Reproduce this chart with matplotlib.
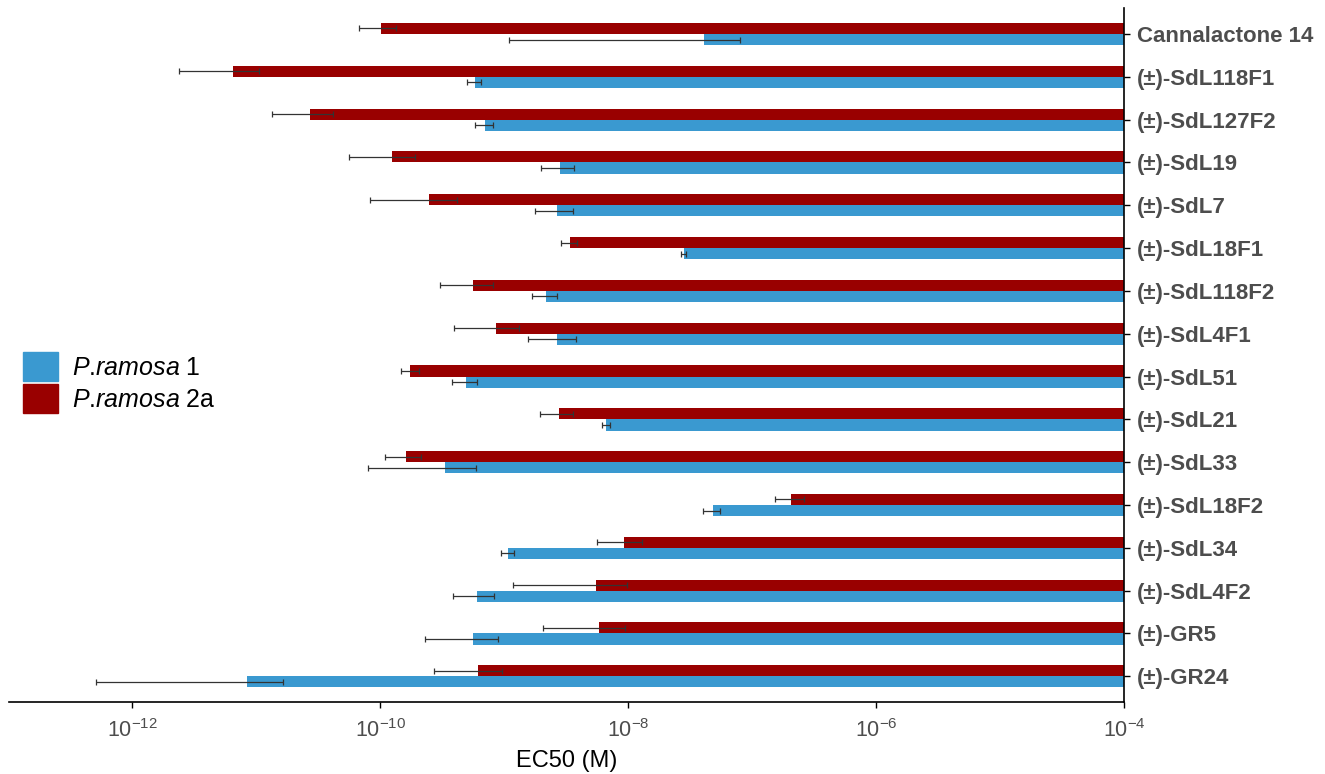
"""EC50 of strigolactone analogues on two P. ramosa populations (log scale bars)."""

import matplotlib
matplotlib.use("Agg")
import matplotlib.pyplot as plt
from matplotlib.patches import Patch

plt.rcParams["font.family"] = ["Liberation Sans", "DejaVu Sans"]
plt.rcParams["mathtext.fontset"] = "custom"
plt.rcParams["mathtext.rm"] = "Liberation Sans"
plt.rcParams["mathtext.it"] = "Liberation Sans:italic"
plt.rcParams["mathtext.bf"] = "Liberation Sans:bold"

compounds = ["Cannalactone 14", "(±)-SdL118F1", "(±)-SdL127F2", "(±)-SdL19", "(±)-SdL7",
             "(±)-SdL18F1", "(±)-SdL118F2", "(±)-SdL4F1", "(±)-SdL51", "(±)-SdL21",
             "(±)-SdL33", "(±)-SdL18F2", "(±)-SdL34", "(±)-SdL4F2", "(±)-GR5", "(±)-GR24"]

# P. ramosa 1 (blue): mean EC50 and SD, in M
pr1_mean = [4.06e-8, 5.78e-10, 7.01e-10, 2.83e-9, 2.69e-9,
            2.80e-8, 2.17e-9, 2.69e-9, 4.91e-10, 6.64e-9,
            3.34e-10, 4.79e-8, 1.07e-9, 6.05e-10, 5.64e-10, 8.41e-12]
pr1_sd = [3.95e-8, 0.75e-10, 1.15e-10, 0.85e-9, 0.93e-9,
          0.15e-8, 0.5e-9, 1.13e-9, 1.12e-10, 0.52e-9,
          2.54e-10, 0.75e-8, 0.13e-9, 2.2e-10, 3.35e-10, 7.9e-12]

# P. ramosa 2a (dark red)
pr2a_mean = [1.01e-10, 6.50e-12, 2.73e-11, 1.233e-10, 2.48e-10,
             3.37e-9, 5.56e-10, 8.61e-10, 1.75e-10, 2.79e-9,
             1.62e-10, 2.07e-7, 9.29e-9, 5.47e-9, 5.77e-9, 6.15e-10]
pr2a_sd = [0.33e-10, 4.1e-12, 1.4e-11, 0.67e-10, 1.65e-10,
           0.5e-9, 2.5e-10, 4.65e-10, 0.29e-10, 0.83e-9,
           0.53e-10, 0.55e-7, 3.65e-9, 4.3e-9, 3.7e-9, 3.44e-10]

x_max = 1e-4
blue = "#3a99d0"
red = "#990000"

fig = plt.figure(figsize=(13.25, 7.74), dpi=100)
ax = fig.add_axes([9 / 1325, 72 / 774, (1124 - 9) / 1325, (765.7 - 72) / 774])

h = 0.26
ypos = list(range(len(compounds)))
y_red = [y - h / 2 for y in ypos]
y_blue = [y + h / 2 for y in ypos]

ax.barh(y_red, [x_max - m for m in pr2a_mean], left=pr2a_mean, height=h, color=red)
ax.barh(y_blue, [x_max - m for m in pr1_mean], left=pr1_mean, height=h, color=blue)
err_kw = dict(fmt="none", ecolor="#333333", elinewidth=0.9, capsize=2.5, capthick=0.9, zorder=3)
ax.errorbar(pr2a_mean, y_red, xerr=pr2a_sd, **err_kw)
ax.errorbar(pr1_mean, y_blue, xerr=pr1_sd, **err_kw)

ax.set_xscale("log")
ax.set_xlim(10 ** -12.995, x_max)
ax.set_ylim(len(compounds) - 0.4, -0.6)
ax.set_xticks([1e-12, 1e-10, 1e-8, 1e-6, 1e-4])
ax.minorticks_off()

ax.yaxis.tick_right()
ax.set_yticks(ypos)
ax.set_yticklabels(compounds, fontsize=16, fontweight="bold", color="#4d4d4d")
ax.tick_params(axis="y", length=4.5, width=1, pad=5)
ax.tick_params(axis="x", labelsize=15.5, labelcolor="#4d4d4d", length=4, width=1, pad=8)
ax.set_xlabel("EC50 (M)", fontsize=17, labelpad=6)

for s in ["top", "left"]:
    ax.spines[s].set_visible(False)
ax.spines["bottom"].set_linewidth(1.2)
ax.spines["right"].set_linewidth(1.2)

handles = [Patch(color=blue), Patch(color=red)]
fig.legend(handles, [r"$\it{P}$.$\it{ramosa}$ 1", r"$\it{P}$.$\it{ramosa}$ 2a"],
           loc="upper left", bbox_to_anchor=(23 / 1325, 1 - 352 / 774),
           frameon=False, fontsize=18, handlelength=1.4, handleheight=1.4,
           labelspacing=0.14, handletextpad=0.54, borderpad=0, borderaxespad=0)

fig.savefig("out.png", dpi=100)
